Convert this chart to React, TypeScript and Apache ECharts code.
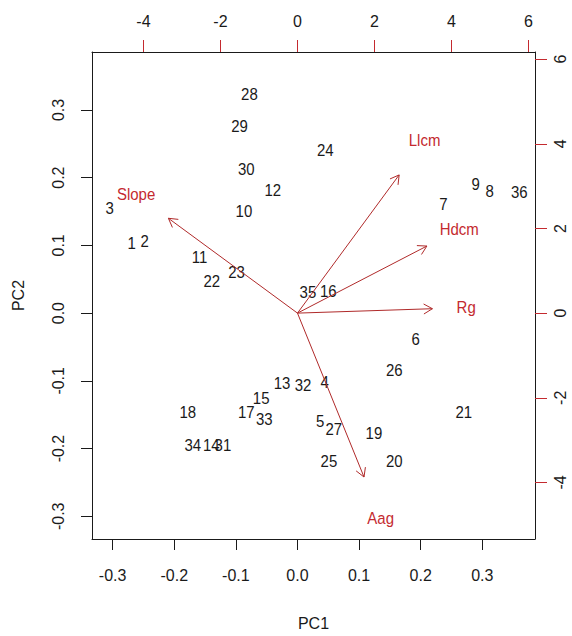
import React, { useEffect, useRef } from "react";
import * as echarts from "echarts";

// Observation scores (PC1, PC2) with their labels
const OBS_LABELS = [
  "1", "2", "3", "4", "5", "6", "7", "8", "9", "10", "11", "12",
  "13", "14", "15", "16", "17", "18", "19", "20", "21", "22", "23", "24",
  "25", "26", "27", "28", "29", "30", "31", "32", "33", "34", "35", "36",
];
const PC1_SCORES = [
  -0.269, -0.248, -0.305, 0.044, 0.037, 0.192, 0.237, 0.312, 0.289, -0.087, -0.159, -0.040,
  -0.025, -0.140, -0.059, 0.050, -0.083, -0.178, 0.124, 0.157, 0.270, -0.139, -0.099, 0.045,
  0.051, 0.157, 0.059, -0.078, -0.094, -0.083, -0.121, 0.009, -0.054, -0.170, 0.017, 0.360,
];
const PC2_SCORES = [
  0.103, 0.106, 0.155, -0.102, -0.160, -0.038, 0.161, 0.180, 0.191, 0.150, 0.082, 0.182,
  -0.103, -0.195, -0.125, 0.032, -0.146, -0.147, -0.177, -0.218, -0.146, 0.047, 0.060, 0.240,
  -0.218, -0.085, -0.171, 0.323, 0.276, 0.212, -0.195, -0.107, -0.156, -0.195, 0.031, 0.178,
];

// Variable loadings (label positions, top/right axis units)
const VAR_NAMES = ["Slope", "Llcm", "Hdcm", "Rg", "Aag"];
const VAR_PC1 = [-4.19, 3.3, 4.2, 4.38, 2.16];
const VAR_PC2 = [2.8, 4.08, 1.98, 0.13, -4.84];
const ARROW_FRACTION = 0.8; // R biplot draws arrows to 0.8 of the label position

// Axis ticks
const SCORE_TICKS = [-0.3, -0.2, -0.1, 0.0, 0.1, 0.2, 0.3];
const LOADING_TICKS = [-4, -2, 0, 2, 4, 6];
const SCORE_LIM = [-0.3335, 0.3855];
const LOADING_RATIO = 16;

const FONT = "'Liberation Sans', Arial, sans-serif";
const RED = "#c42a2f";
const ARROW_RED = "#b02a2a";
const INK = "#1a1a1a";

export default function App() {
  const ref = useRef<HTMLDivElement>(null);

  useEffect(() => {
    if (!ref.current) return;
    const chart = echarts.init(ref.current, null, { renderer: "svg" });

    const obsData = PC1_SCORES.map((x, i) => [x, PC2_SCORES[i]]);
    const varData = VAR_PC1.map((x, i) => [x, VAR_PC2[i]]);

    const baseLabel = { color: INK, fontSize: 16, fontFamily: FONT };

    const option: any = {
      animation: false,
      backgroundColor: "#ffffff",
      grid: { left: 92, right: 37, top: 52, bottom: 93, containLabel: false },
      xAxis: [
        {
          type: "value",
          position: "bottom",
          min: SCORE_LIM[0],
          max: SCORE_LIM[1],
          name: "PC1",
          nameLocation: "middle",
          nameGap: 76,
          nameTextStyle: { color: INK, fontSize: 16, fontFamily: FONT },
          axisLine: { show: true, onZero: false, lineStyle: { color: INK, width: 1 } },
          axisTick: { show: true, inside: false, length: 11, customValues: SCORE_TICKS, lineStyle: { color: INK } },
          axisLabel: {
            ...baseLabel,
            margin: 28,
            customValues: SCORE_TICKS,
            formatter: (v: number) => v.toFixed(1),
          },
          splitLine: { show: false },
        },
        {
          type: "value",
          position: "top",
          min: SCORE_LIM[0] * LOADING_RATIO,
          max: SCORE_LIM[1] * LOADING_RATIO,
          axisLine: { show: true, onZero: false, lineStyle: { color: INK, width: 1 } },
          axisTick: { show: true, inside: false, length: 12, customValues: LOADING_TICKS, lineStyle: { color: RED } },
          axisLabel: {
            ...baseLabel,
            margin: 23,
            customValues: LOADING_TICKS,
            formatter: (v: number) => String(v),
          },
          splitLine: { show: false },
        },
      ],
      yAxis: [
        {
          type: "value",
          position: "left",
          min: SCORE_LIM[0],
          max: SCORE_LIM[1],
          name: "PC2",
          nameLocation: "middle",
          nameGap: 66,
          nameRotate: 90,
          nameTextStyle: { color: INK, fontSize: 16, fontFamily: FONT },
          axisLine: { show: true, onZero: false, lineStyle: { color: INK, width: 1 } },
          axisTick: { show: true, inside: false, length: 11, customValues: SCORE_TICKS, lineStyle: { color: INK } },
          axisLabel: {
            ...baseLabel,
            margin: 26,
            rotate: 90,
            customValues: SCORE_TICKS,
            formatter: (v: number) => v.toFixed(1),
          },
          splitLine: { show: false },
        },
        {
          type: "value",
          position: "right",
          min: SCORE_LIM[0] * LOADING_RATIO,
          max: SCORE_LIM[1] * LOADING_RATIO,
          axisLine: { show: true, onZero: false, lineStyle: { color: INK, width: 1 } },
          axisTick: { show: true, inside: false, length: 12, customValues: LOADING_TICKS, lineStyle: { color: RED } },
          axisLabel: {
            ...baseLabel,
            margin: 17,
            rotate: 90,
            customValues: LOADING_TICKS,
            formatter: (v: number) => String(v),
          },
          splitLine: { show: false },
        },
      ],
      series: [
        {
          type: "custom",
          name: "observations",
          xAxisIndex: 0,
          yAxisIndex: 0,
          data: obsData,
          clip: false,
          renderItem: (params: any, api: any) => {
            const p = api.coord([api.value(0), api.value(1)]);
            return {
              type: "text",
              x: p[0],
              y: p[1],
              scaleY: 1.12,
              style: {
                text: OBS_LABELS[params.dataIndex],
                x: 0,
                y: 0,
                textAlign: "center",
                textVerticalAlign: "middle",
                fontSize: 15,
                fontFamily: FONT,
                fill: INK,
              },
            };
          },
        },
        {
          type: "custom",
          name: "variables",
          xAxisIndex: 1,
          yAxisIndex: 1,
          data: varData,
          clip: false,
          renderItem: (params: any, api: any) => {
            const lx = api.value(0);
            const ly = api.value(1);
            const o = api.coord([0, 0]);
            const t = api.coord([lx * ARROW_FRACTION, ly * ARROW_FRACTION]);
            const lp = api.coord([lx, ly]);
            const ang = Math.atan2(t[1] - o[1], t[0] - o[0]);
            const hl = 10;
            const spread = Math.PI / 6;
            const h1 = [t[0] - hl * Math.cos(ang - spread), t[1] - hl * Math.sin(ang - spread)];
            const h2 = [t[0] - hl * Math.cos(ang + spread), t[1] - hl * Math.sin(ang + spread)];
            const stroke = { stroke: ARROW_RED, lineWidth: 1, fill: null };
            return {
              type: "group",
              children: [
                { type: "line", shape: { x1: o[0], y1: o[1], x2: t[0], y2: t[1] }, style: stroke },
                { type: "polyline", shape: { points: [h1, t, h2] }, style: stroke },
                {
                  type: "text",
                  x: lp[0],
                  y: lp[1],
                  scaleY: 1.12,
                  style: {
                    text: VAR_NAMES[params.dataIndex],
                    x: 0,
                    y: 0,
                    textAlign: "center",
                    textVerticalAlign: "middle",
                    fontSize: 15,
                    fontFamily: FONT,
                    fill: RED,
                  },
                },
              ],
            };
          },
        },
      ],
    };

    chart.setOption(option);
    return () => chart.dispose();
  }, []);

  return (
    <div
      ref={ref}
      style={{ position: "absolute", left: 0, top: 0, width: 572, height: 636, background: "#fff" }}
    />
  );
}
